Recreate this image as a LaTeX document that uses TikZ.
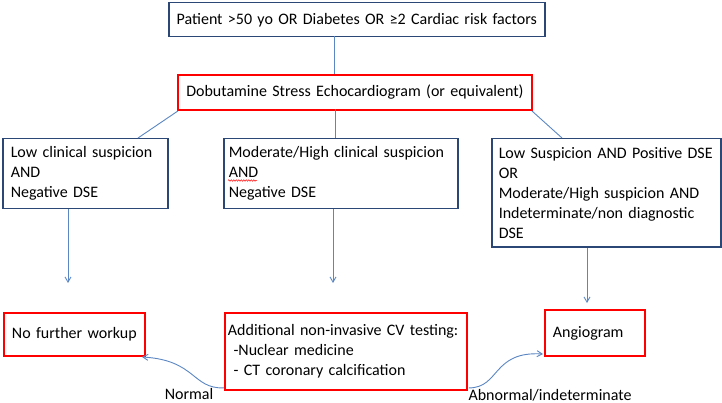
\documentclass[tikz,border=0pt]{standalone}
\usepackage{fontspec}
\setmainfont{Carlito}
\usetikzlibrary{arrows.meta,decorations.pathmorphing}
\definecolor{BoxBlue}{HTML}{2B4775}
\definecolor{BoxRed}{HTML}{FF0000}
\definecolor{LinkBlue}{HTML}{5A86C2}

\tikzset{
  bluebox/.style={draw=BoxBlue,line width=1.5pt,anchor=north west,
    inner xsep=8pt,inner ysep=0pt,align=left,
    font=\fontsize{16}{20}\selectfont},
  redbox/.style={bluebox,draw=BoxRed,line width=1.9pt},
  link/.style={LinkBlue,line width=0.9pt},
  linkarrow/.style={link,-{Straight Barb[angle=60:6pt]}},
  branchlabel/.style={font=\fontsize{16}{18}\selectfont}
}

\begin{document}
\begin{tikzpicture}[x=1pt,y=-1pt]
        \useasboundingbox (0,0) rectangle (722,403);

        % screening and stress test
        \node[bluebox,inner xsep=3pt,text width=370pt,minimum height=34pt,
          align=center] (patient) at (168,2)
          {Patient >50 yo OR Diabetes OR ≥2 Cardiac risk factors};
        \node[redbox,inner xsep=3pt,text width=348pt,minimum height=35pt,
          align=center] (dse) at (177,74)
          {Dobutamine Stress Echocardiogram (or equivalent)};

        % clinical groups
        \node[bluebox,text width=149pt,minimum height=70pt]
          (lowsusp) at (2,138)
          {Low clinical suspicion\\AND\\Negative DSE};
        \node[bluebox,inner xsep=5pt,text width=224pt,minimum height=70pt]
          (modsusp) at (223,138)
          {Moderate/High clinical suspicion\\AND\\Negative DSE};
        \node[bluebox,inner xsep=7pt,text width=215pt,minimum height=108pt]
          (possusp) at (491,138)
          {Low Suspicion AND Positive DSE\\OR\\Moderate/High suspicion AND\\Indeterminate/non diagnostic\\DSE};

        % outcomes
        \node[redbox,text width=125pt,minimum height=43pt]
          (nofurther) at (3,312)
          {No further workup};
        \node[redbox,inner xsep=3pt,text width=236pt,minimum height=77pt]
          (addtest) at (224,312)
          {Additional non-invasive CV testing:\\
           \hspace{0.35em}-Nuclear medicine\\
           \hspace{0.35em}- CT coronary calcification};
        \node[redbox,inner xsep=8pt,text width=84pt,minimum height=46pt]
          (angio) at (544,309)
          {Angiogram};

        % spell-check mark under AND
        \draw[BoxRed,line width=0.5pt,decorate,
          decoration={snake,amplitude=0.7pt,segment length=2.5pt}]
          (228,180.5) -- (257,180.5);

        \draw[link] (334,36) -- (334,74);
        \draw[link] (dse.south west) ++(1,0) -- (138,138);
        \draw[link] (335,109) -- (335,138);
        \draw[link] (dse.south east) ++(-1,0) -- (562,138);

        \draw[linkarrow] (lowsusp.south -| 68,0) -- (68,283);
        \draw[linkarrow] (modsusp.south -| 333,0) -- (333,283);
        \draw[linkarrow] (possusp.south -| 587,0) -- (587,303);

        \coordinate (normalend) at (142,357);
        \coordinate (abnormalend) at (543,354);
        \draw[linkarrow] (addtest.south west) ++(0,-3)
          .. controls (192,389) and (196,360) .. (normalend);
        \draw[linkarrow] (addtest.south east) ++(1,-3)
          .. controls (500,388) and (492,351) .. (abnormalend);
        \node[branchlabel] (normal) at (189,394) {Normal};
        \node[branchlabel,anchor=west] (abnormal) at (465,395)
          {Abnormal/indeterminate};
      \end{tikzpicture}
\end{document}
